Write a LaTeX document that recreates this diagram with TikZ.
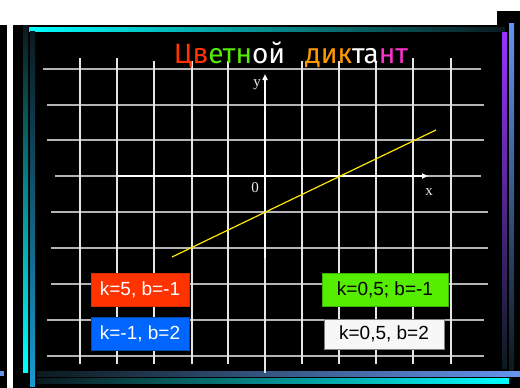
\documentclass[tikz,border=0pt]{standalone}
\usepackage{fontspec}
\setmainfont{Liberation Serif}
\newfontfamily\titlefont{Fira Sans}
\newfontfamily\boxfont{Liberation Sans}
\usetikzlibrary{arrows.meta}
\definecolor{dictred}{HTML}{FF3300}
\definecolor{dictgreen}{HTML}{55EE00}
\definecolor{dictorange}{HTML}{FF9900}
\definecolor{dictpink}{HTML}{FF33CC}
\definecolor{dictblue}{HTML}{0066FF}
\definecolor{barcyan}{HTML}{00FFFF}
\definecolor{barsky}{HTML}{1A9AD0}
\definecolor{barcorn}{HTML}{6495ED}
\definecolor{barpurple}{HTML}{9933FF}
\definecolor{bardark}{HTML}{0A1A1E}
\definecolor{gridgray}{HTML}{B4B4B4}
\begin{document}
\begin{tikzpicture}[x=1pt, y=-1pt,
    gridline/.style={gridgray, line width=1.1pt},
    axis/.style={-{Triangle[length=6pt,width=5pt]}, white, line width=1.8pt},
    lbl/.style={white!85!gray, font=\fontsize{15}{15}\selectfont},
    keybox/.style={minimum height=33pt, inner sep=0pt, line width=1pt,
      font=\boxfont\fontsize{19}{19}\selectfont}]
    \useasboundingbox (0,0) rectangle (520,388);
    % slide background
    \fill[white] (0,0) rectangle (520,388);
    \fill[black] (0,25) rectangle (520,388);
    \fill[black] (497,11) rectangle (520,25);
    \fill[white] (7,25) rectangle (13,388);
    % frame bars
    \shade[left color=barcyan, right color=bardark] (29,27) rectangle (505,31);
    \shade[top color=bardark, bottom color=barcyan] (23,25) rectangle (28,372);
    \shade[top color=bardark, bottom color=barsky] (30,31) rectangle (35,386);
    \shade[left color=bardark, right color=barcorn] (37,371) rectangle (520,376);
    \shade[left color=bardark, right color=barcyan] (37,378) rectangle (509,383);
    \shade[top color=barpurple, bottom color=bardark] (502,32) rectangle (507,368);
    \shade[top color=barcorn, bottom color=bardark] (509,23) rectangle (514,370);
    \fill[barcorn] (0,371) rectangle (4,376);
    % grid
    \foreach \y/\a/\b in {69/43/481, 105/47/484, 140/47/484, 176/55/481,
        212/51/488, 248/51/488, 284/51/488, 320/47/484, 356/47/484}
      \draw[gridline] (\a,\y) -- (\b,\y);
    \foreach \x/\t in {80/58, 117/58, 154/61, 192/61, 228/61, 302/61,
        339/61, 376/61, 413/58, 451/58}
      \draw[gridline, white!80!gray] (\x,\t) -- (\x,364);
    \draw[gridline, white!80!gray] (265,258) -- (265,373);
    % axes
    \coordinate (xs) at (118,176);
    \coordinate (xe) at (428,176);
    \coordinate (ys) at (265,258);
    \coordinate (ye) at (265,74);
    \draw[axis] (xs) -- (xe);
    \draw[axis] (ys) -- (ye);
    \node[lbl] (ylbl) at (257,85) {y};
    \node[lbl] (xlbl) at (429,192) {x};
    \node[lbl] (orig) at (255,188) {0};
    % graph of the line
    \coordinate (ls) at (172,257);
    \coordinate (le) at (436,130);
    \draw[yellow!90!orange, line width=1.2pt] (ls) -- (le);
    % title
    \node[anchor=base, font=\titlefont\fontsize{28}{28}\selectfont] (title) at (291,63)
      {{\color{dictred}Цв}{\color{dictgreen}етн}{\color{white}ой}\;\,
       {\color{dictorange}дик}{\color{white}та}{\color{dictpink}нт}};
    % cards
    \node[keybox, fill=dictred, draw=dictred!85!black, text=white, minimum width=98pt]
      (kr) at (140,289.5) {k=5, b=-1};
    \node[keybox, fill=dictblue, draw=dictblue!70!black, text=white, minimum width=98pt]
      (kb) at (140,333.5) {k=-1, b=2};
    \node[keybox, fill=dictgreen, draw=dictgreen!75!black, text=black, minimum width=126pt]
      (kg) at (385,289.5) {k=0,5; b=-1};
    \node[keybox, fill=white!97!black, draw=gray, text=black, minimum width=120pt,
      minimum height=30pt] (kw) at (384,334) {k=0,5, b=2};
\end{tikzpicture}
\end{document}
